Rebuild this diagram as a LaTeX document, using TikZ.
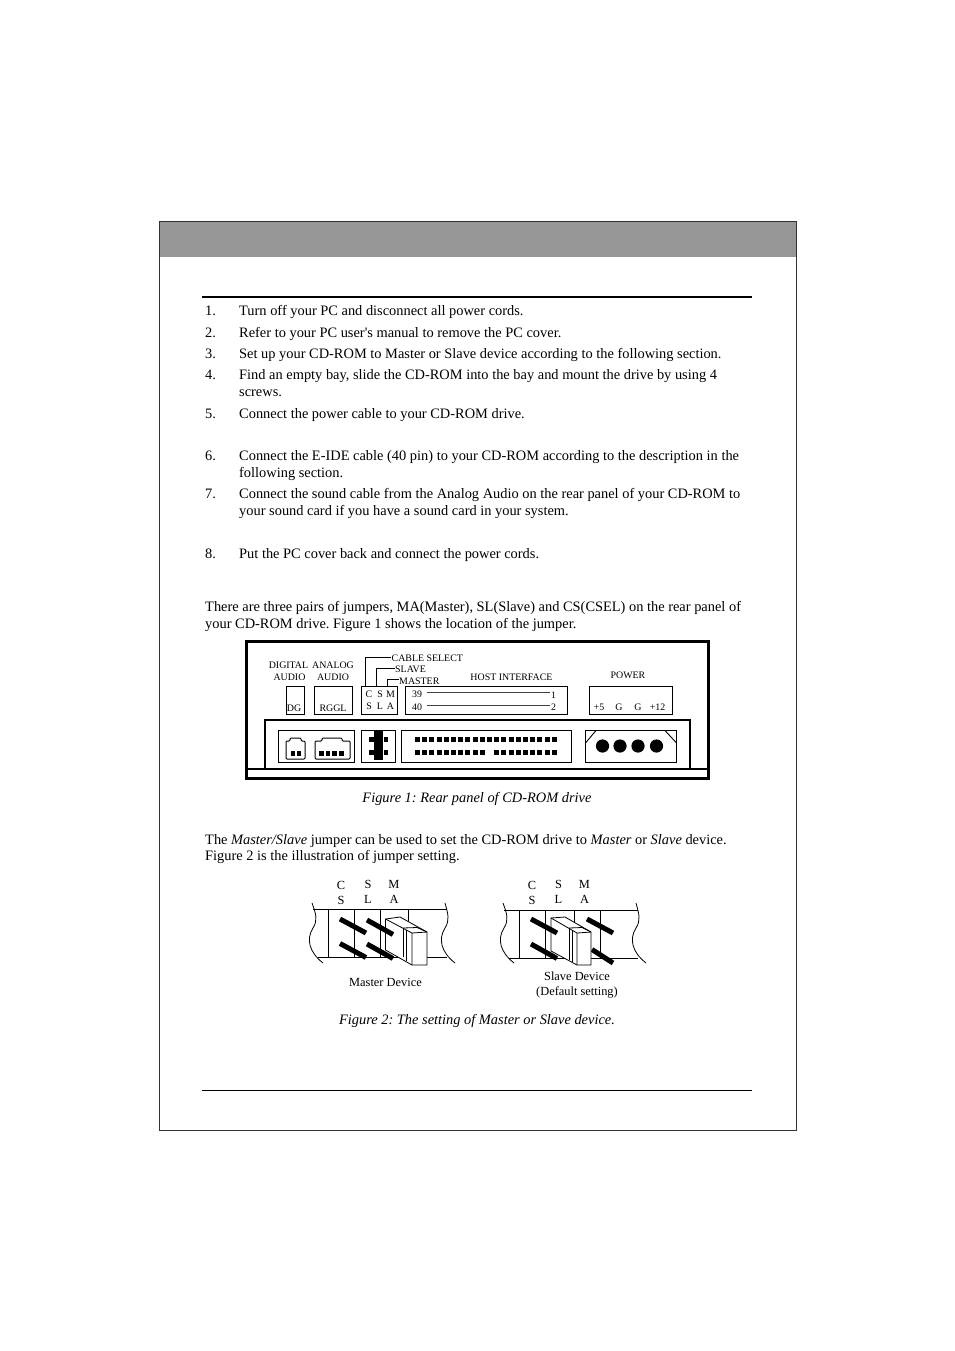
\documentclass[tikz,border=0pt]{standalone}
\usepackage{fontspec}
\setmainfont{Liberation Serif}
\newfontfamily\plainserif{Liberation Serif}
\frenchspacing
\tikzset{
 body/.style={anchor=base west,inner sep=0pt,font=\fontsize{14.4}{16}\selectfont},
 captext/.style={anchor=base,inner sep=0pt,font=\fontsize{14.4}{16}\selectfont\itshape},
 lab/.style={anchor=base,inner sep=0pt,font=\fontsize{9.9}{11}\selectfont},
 labb/.style={anchor=base,inner sep=0pt,font=\fontsize{12.4}{14}\selectfont},
 bar/.style={line width=5pt,black},
 pin/.style={fill=black,draw=none},
}
\begin{document}
\begin{tikzpicture}[x=1pt,y=-1pt]
\useasboundingbox (0,0) rectangle (954,1351);
\fill[white] (0,0) rectangle (954,1351);
% page
\fill[black!41] (159.5,221.5) rectangle (796,257);
\draw[line width=1pt,black!80] (159.3,221.2) rectangle (796,1130);
\draw[line width=2pt] (202,297) -- (751.5,297);
\draw[line width=.8pt] (202,1090.5) -- (751.5,1090.5);
% steps
\foreach \n/\y/\t in {
 1./315/Turn off your PC and disconnect all power cords.,
 2./337/Refer to your PC user{\plainserif\char39}s manual to remove the PC cover.,
 3./358/Set up your CD-ROM to Master or Slave device according to the following section.,
 4./379/Find an empty bay{,} slide the CD-ROM into the bay and mount the drive by using 4,
 /396/screws.,
 5./418/Connect the power cable to your CD-ROM drive.,
 6./460/Connect the E-IDE cable (40 pin) to your CD-ROM according to the description in the,
 /477/following section.,
 7./498/Connect the sound cable from the Analog Audio on the rear panel of your CD-ROM to,
 /515/your sound card if you have a sound card in your system.,
 8./558/Put the PC cover back and connect the power cords.}{
 \node[body] at (205,\y) {\n};
 \node[body] at (239,\y) {\t};
}
\node[body] (p1) at (205,611) {There are three pairs of jumpers, MA(Master), SL(Slave) and CS(CSEL) on the rear panel of};
\node[body] (p2) at (205,628) {your CD-ROM drive. Figure 1 shows the location of the jumper.};
\node[captext] (c1) at (477,802) {Figure 1: Rear panel of CD-ROM drive};
\node[body] (p3) at (205,844) {The \textit{Master/Slave} jumper can be used to set the CD-ROM drive to \textit{Master} or \textit{Slave} device.};
\node[body] (p4) at (205,860) {Figure 2 is the illustration of jumper setting.};
\node[captext] (c2) at (477,1024) {Figure 2: The setting of Master or Slave device.};
% Figure 1 frame
\draw[line width=3pt] (246.5,641.5) rectangle (708.5,778);
\draw[line width=1.6pt] (246,769) -- (708,769);
\draw[line width=2pt] (264.5,769) -- (264.5,719.5) -- (690,719.5) -- (690,769);
% upper boxes
\draw[line width=1pt] (286,686) rectangle (304,714);
\draw[line width=1pt] (314,686) rectangle (352,714);
\draw[line width=1pt] (361,686) rectangle (397.5,714);
\draw[line width=1pt] (405,686) rectangle (567.5,714);
\draw[line width=1pt] (589,686) rectangle (672.5,714);
% upper labels
\node[lab] at (288.5,668) {DIGITAL};
\node[lab] at (289.5,680) {AUDIO};
\node[lab] at (333,668) {ANALOG};
\node[lab] at (333,680) {AUDIO};
\node[lab] at (294,711.5) {DG};
\node[lab] at (333,711.5) {RGGL};
\foreach \t/\x in {C/369,S/380,M/390.5}{\node[lab] at (\x,697) {\t};}
\foreach \t/\x in {S/369,L/380,A/390.5}{\node[lab] at (\x,709.5) {\t};}
\node[lab,anchor=base west] at (391.5,661) {CABLE SELECT};
\node[lab,anchor=base west] at (395,672) {SLAVE};
\node[lab,anchor=base west] at (399,684) {MASTER};
\draw[line width=.8pt] (365.5,686) -- (365.5,657) -- (391,657);
\draw[line width=.8pt] (376,686) -- (376,668) -- (395,668);
\draw[line width=.8pt] (387,686) -- (387,679) -- (399,679);
\node[lab] at (511.5,680) {HOST INTERFACE};
\node[lab] at (628,678) {POWER};
\node[lab] at (417,697.5) {39};
\node[lab] at (417,710) {40};
\node[lab] at (553.5,698) {1};
\node[lab] at (553.5,710) {2};
\draw[line width=.9pt,black!75] (427,692) -- (550,692);
\draw[line width=.9pt,black!75] (427,705) -- (550,705);
\foreach \t/\x in {+5/599,G/619,G/638,+12/657.5}{\node[lab] at (\x,710.5) {\t};}
% lower boxes
\draw[line width=1pt] (278,730.5) rectangle (354.5,762);
\draw[line width=1pt] (361,730.5) rectangle (395,762);
\draw[line width=1pt] (401.5,730.5) rectangle (571.5,762);
\draw[line width=1pt] (585.5,730.5) rectangle (676.5,762);
% digital socket
\draw[line width=1pt,rounded corners=1pt] (286,759) -- (286,741) -- (290,741) -- (290,738) -- (301,738) -- (301,741) -- (305,741) -- (305,759) -- cycle;
\foreach \x in {291,296.5}{\fill[pin] (\x,751) rectangle +(4.2,5);}
% analog socket
\draw[line width=1pt,rounded corners=1pt] (315,759) -- (315,741) -- (322,741) -- (322,738) -- (342,738) -- (342,741) -- (350,741) -- (350,759) -- cycle;
\foreach \x in {319,325.5,332,339}{\fill[pin] (\x,751) rectangle +(4.5,5);}
% jumper
\foreach \x in {369,383.5}{\foreach \yy in {737,750}{\fill[pin] (\x,\yy) rectangle +(4.5,5);}}
\fill[pin] (374,731) rectangle (383,760);
% host pins
\foreach \i in {0,...,19}{\fill[pin] ({415+\i*7.2},737) rectangle +(5,4.8);}
\foreach \i in {0,...,19}{\ifnum\i=10\else\fill[pin] ({415+\i*7.2},750.3) rectangle +(5,4.8);\fi}
% power connector
\draw[line width=.9pt] (596,730.5) -- (585.5,743);
\draw[line width=.9pt] (665,730.5) -- (676.5,743);
\foreach \x in {602.5,620,638,656.5}{\fill (\x,746) circle (6.6);}
% Figure 2: Master
\node[labb] at (341,889) {C};
\node[labb] at (341,904.5) {S};
\node[labb] at (368,888) {S};
\node[labb] at (368,903.5) {L};
\node[labb] at (394,888) {M};
\node[labb] at (394,903.5) {A};
\draw[line width=.8pt] (313,909.5) -- (447,909.5);
\draw[line width=.8pt] (318,957.5) -- (447,957.5);
\draw[line width=.8pt] (328,909.5) -- (328,957.5);
\draw[line width=.8pt] (354,909.5) -- (354,957.5);
\draw[line width=.8pt] (380.5,909.5) -- (380.5,957.5);
\draw[line width=.8pt] (408.5,909.5) -- (408.5,957.5);
\draw[line width=.8pt] (312,903) .. controls (316,914) and (318,920) .. (313,928) .. controls (306,939) and (309,952) .. (323,963);
\draw[line width=.8pt] (445,903) .. controls (448,914) and (450,920) .. (445,928) .. controls (438,939) and (441,952) .. (455,963);
\draw[fill=white,line width=.8pt] (385.5,919) -- (400,917) -- (427,932) -- (427,965) -- (412,965) -- (385.5,950) -- cycle;
\draw[line width=.8pt] (385.5,919) -- (412,933) -- (427,932) (412,933) -- (412,965);
\draw[line width=.8pt] (403,928) -- (403,957) (406.5,930) -- (406.5,961);
\draw[line width=.8pt] (403,928) -- (417,927.5) -- (427,932);
\draw[bar] (340,919) -- (366,933);
\draw[bar] (340,943.5) -- (366,957.5);
\draw[bar] (367,920) -- (393,934.5);
\draw[bar] (367,944) -- (393,958.5);
\node[labb] at (385.5,986) {Master Device};
% Slave
\node[labb] at (532,889) {C};
\node[labb] at (532,904.5) {S};
\node[labb] at (558.5,888) {S};
\node[labb] at (558.5,903.5) {L};
\node[labb] at (584.5,888) {M};
\node[labb] at (584.5,903.5) {A};
\draw[line width=.8pt] (504,910) -- (638,910);
\draw[line width=.8pt] (509,958) -- (638,958);
\draw[line width=.8pt] (519,910) -- (519,958);
\draw[line width=.8pt] (545.5,910) -- (545.5,958);
\draw[line width=.8pt] (574.5,910) -- (574.5,958);
\draw[line width=.8pt] (600,910) -- (600,958);
\draw[line width=.8pt] (503,903) .. controls (507,914) and (509,920) .. (504,928) .. controls (497,939) and (500,952) .. (514,963);
\draw[line width=.8pt] (636,903) .. controls (639,914) and (641,920) .. (636,928) .. controls (629,939) and (632,952) .. (646,963);
\draw[bar] (587,919) -- (613,933);
\draw[bar] (592,949.5) -- (613,963);
\draw[fill=white,line width=.8pt] (551,918) -- (565,917) -- (591,932) -- (591,965) -- (577,965) -- (551,951) -- cycle;
\draw[line width=.8pt] (551,918) -- (577,933) -- (591,932) (577,933) -- (577,965);
\draw[line width=.8pt] (569,928) -- (569,960) (572.5,930) -- (572.5,962);
\draw[line width=.8pt] (569,928) -- (582,927.5) -- (591,932);
\draw[bar] (531,919) -- (557,933);
\draw[bar] (531,944) -- (557,958.5);
\node[labb] at (577,980) {Slave Device};
\node[labb] at (577,995) {(Default setting)};
\end{tikzpicture}
\end{document}
